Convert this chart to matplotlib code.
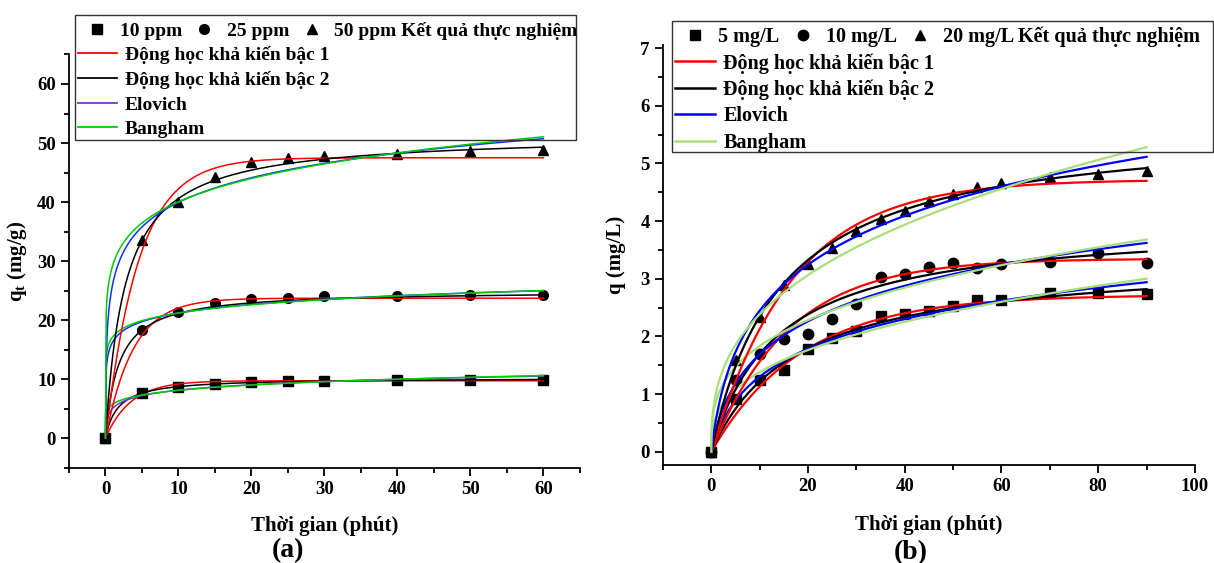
import numpy as np
import matplotlib
matplotlib.use("Agg")
import matplotlib.pyplot as plt
from matplotlib.lines import Line2D
from matplotlib.patches import Rectangle
from matplotlib.ticker import MultipleLocator

plt.rcParams['font.family'] = ['Liberation Serif', 'DejaVu Serif']
plt.rcParams['font.weight'] = 'bold'
plt.rcParams['axes.labelweight'] = 'bold'
plt.rcParams['mathtext.fontset'] = 'custom'
plt.rcParams['mathtext.rm'] = 'Liberation Serif:bold'
plt.rcParams['mathtext.bf'] = 'Liberation Serif:bold'
plt.rcParams['mathtext.it'] = 'Liberation Serif:bold:italic'

# (a) thí nghiệm theo ppm
t_a = [0, 5, 10, 15, 20, 25, 30, 40, 50, 60]
q_10ppm = [0, 7.6, 8.7, 9.2, 9.5, 9.7, 9.7, 9.8, 9.9, 9.8]
q_25ppm = [0, 18.3, 21.4, 22.8, 23.5, 23.8, 24.0, 24.0, 24.2, 24.2]
q_50ppm = [0, 33.5, 40.0, 44.2, 46.8, 47.5, 47.8, 48.2, 48.7, 48.8]
labels_a = ['10 ppm', '25 ppm', '50 ppm Kết quả thực nghiệm']

# tham số mô hình (10, 25, 50 ppm)
pfo_qe_a = [9.7, 23.7, 47.5]
pfo_k_a = [0.288, 0.265, 0.22]
pso_qe_a = [10.2, 25.0, 51.5]
pso_k_a = [0.0573, 0.0218, 0.00723]
elo_a_a = [56.3, 4660.0, 456.0]
elo_b_a = [0.746, 0.472, 0.166]
bang_k_a = [5.73, 17.15, 29.3]
bang_m_a = [0.150, 0.092, 0.1356]

# (b) thí nghiệm theo mg/L
t_b = [0, 5, 10, 15, 20, 25, 30, 35, 40, 45, 50, 55, 60, 70, 80, 90]
q_5mg = [0, 0.92, 1.24, 1.42, 1.78, 1.98, 2.10, 2.36, 2.39, 2.45, 2.53, 2.63, 2.63, 2.75, 2.75, 2.73]
q_10mg = [0, 1.25, 1.70, 1.95, 2.05, 2.30, 2.57, 3.03, 3.08, 3.21, 3.27, 3.19, 3.25, 3.29, 3.44, 3.27]
q_20mg = [0, 1.60, 2.33, 2.90, 3.25, 3.53, 3.83, 4.03, 4.18, 4.35, 4.47, 4.60, 4.66, 4.77, 4.82, 4.87]
labels_b = ['5 mg/L', '10 mg/L', '20 mg/L Kết quả thực nghiệm']

pfo_qe_b = [2.72, 3.35, 4.72]
pfo_k_b = [0.0537, 0.063, 0.06]
pso_qe_b = [3.373, 3.99, 5.70]
pso_k_b = [0.0168, 0.0186, 0.0123]
elo_a_b = [0.32, 0.468, 0.724]
elo_b_b = [1.22, 1.053, 0.769]
bang_k_b = [0.613, 0.884, 1.036]
bang_m_b = [0.353, 0.317, 0.362]

model_names = ['Động học khả kiến bậc 1', 'Động học khả kiến bậc 2', 'Elovich', 'Bangham']


def pfo(t, qe, k):
    return qe * (1 - np.exp(-k * t))


def pso(t, qe, k):
    return qe ** 2 * k * t / (1 + qe * k * t)


def elovich(t, a, b):
    return np.log(1 + a * b * t) / b


def bangham(t, k, m):
    return k * t ** m


def style_axes(ax):
    ax.spines['top'].set_visible(False)
    ax.spines['right'].set_visible(False)
    for s in ['left', 'bottom']:
        ax.spines[s].set_linewidth(1.3)
    ax.tick_params(which='major', direction='out', length=6, width=1.3, labelsize=13.5)
    ax.tick_params(which='minor', direction='out', length=3.5, width=1.3)


def draw_legend(fig, handles_pts, labels_pts, line_colors, lw, box, fs, first_row, spacing):
    x0, y0, x1, y1 = box
    W, H = fig.get_size_inches() * fig.dpi
    fig.add_artist(Rectangle((x0 / W, 1 - y1 / H), (x1 - x0) / W, (y1 - y0) / H,
                             transform=fig.transFigure, fill=False,
                             edgecolor='#333333', lw=1.0, clip_on=False))
    leg1 = fig.legend(handles_pts, labels_pts, loc='center left', ncol=3,
                      bbox_to_anchor=((x0 + 3) / W, 1 - (y0 + 16) / H),
                      frameon=False, fontsize=fs, handlelength=2.0,
                      handletextpad=0.15, columnspacing=0.15,
                      borderpad=0, borderaxespad=0)
    line_handles = [Line2D([], [], color=c, lw=lw) for c in line_colors]
    leg2 = fig.legend(line_handles, model_names, loc='upper left',
                      bbox_to_anchor=((x0 + 3) / W, 1 - (y0 + first_row) / H),
                      frameon=False, fontsize=fs, handlelength=2.0,
                      handletextpad=0.4, labelspacing=spacing,
                      borderpad=0, borderaxespad=0)
    return leg1, leg2


fig = plt.figure(figsize=(12.14, 5.63), dpi=100)

# ---------- (a) ----------
ax1 = fig.add_axes([0.0568, 0.1696, 0.4209, 0.7336])
markers = ['s', 'o', '^']
tt = np.linspace(0, 60, 600)
for q, mk in zip([q_10ppm, q_25ppm, q_50ppm], markers):
    ax1.plot(t_a, q, ls='none', marker=mk, ms=7, color='black', zorder=2)
elo_colors_a = ['#7b2fe0', '#1030ff', '#1030ff']
for i in range(3):
    ax1.plot(tt, pfo(tt, pfo_qe_a[i], pfo_k_a[i]), color='#ff0000', lw=1.1, zorder=3)
    ax1.plot(tt, pso(tt, pso_qe_a[i], pso_k_a[i]), color='black', lw=1.1, zorder=3)
    ax1.plot(tt, elovich(tt, elo_a_a[i], elo_b_a[i]), color=elo_colors_a[i], lw=1.1, zorder=3)
    ax1.plot(tt, bangham(tt, bang_k_a[i], bang_m_a[i]), color='#00cc00', lw=1.1, zorder=3)
ax1.set_xlim(-5, 65)
ax1.set_ylim(-5, 65)
ax1.xaxis.set_major_locator(MultipleLocator(10))
ax1.xaxis.set_minor_locator(MultipleLocator(5))
ax1.yaxis.set_major_locator(MultipleLocator(10))
ax1.yaxis.set_minor_locator(MultipleLocator(5))
style_axes(ax1)
ax1.set_xlabel('Thời gian (phút)', fontsize=15, labelpad=13)
ax1.set_ylabel(r'q$_{\rm t}$ (mg/g)', fontsize=15, labelpad=6)
fig.text(0.237, 0.022, '(a)', fontsize=20, ha='center', va='center')

pts_a = [Line2D([], [], ls='none', marker=m, ms=7, color='black') for m in markers]
draw_legend(fig, pts_a, labels_a, ['#ff0000', 'black', '#7b2fe0', '#00cc00'], 1.3,
            (75, 15, 576, 140), 14, 31, 0.36)

# ---------- (b) ----------
ax2 = fig.add_axes([0.5461, 0.174, 0.4382, 0.7456])
tt = np.linspace(0, 90, 900)
for q, mk in zip([q_5mg, q_10mg, q_20mg], markers):
    ax2.plot(t_b, q, ls='none', marker=mk, ms=7.5, color='black', zorder=2)
for i in range(3):
    ax2.plot(tt, pfo(tt, pfo_qe_b[i], pfo_k_b[i]), color='#ff0000', lw=1.6, zorder=3)
    ax2.plot(tt, pso(tt, pso_qe_b[i], pso_k_b[i]), color='black', lw=1.6, zorder=3)
    ax2.plot(tt, elovich(tt, elo_a_b[i], elo_b_b[i]), color='#0000ff', lw=1.6, zorder=3)
    ax2.plot(tt, bangham(tt, bang_k_b[i], bang_m_b[i]), color='#a6e07a', lw=1.6, zorder=3)
ax2.set_xlim(-10, 100)
ax2.set_ylim(-0.23, 7.05)
ax2.xaxis.set_major_locator(MultipleLocator(20))
ax2.xaxis.set_minor_locator(MultipleLocator(10))
ax2.yaxis.set_major_locator(MultipleLocator(1))
ax2.yaxis.set_minor_locator(MultipleLocator(0.5))
style_axes(ax2)
ax2.set_xlabel('Thời gian (phút)', fontsize=15, labelpad=14)
ax2.set_ylabel('q (mg/L)', fontsize=15, labelpad=10)
fig.text(0.750, 0.018, '(b)', fontsize=20, ha='center', va='center')

pts_b = [Line2D([], [], ls='none', marker=m, ms=7.5, color='black') for m in markers]
draw_legend(fig, pts_b, labels_b, ['#ff0000', 'black', '#0000ff', '#a6e07a'], 1.8,
            (672, 21, 1213, 152), 14.5, 32, 0.31)

fig.savefig('out.png', dpi=100)
